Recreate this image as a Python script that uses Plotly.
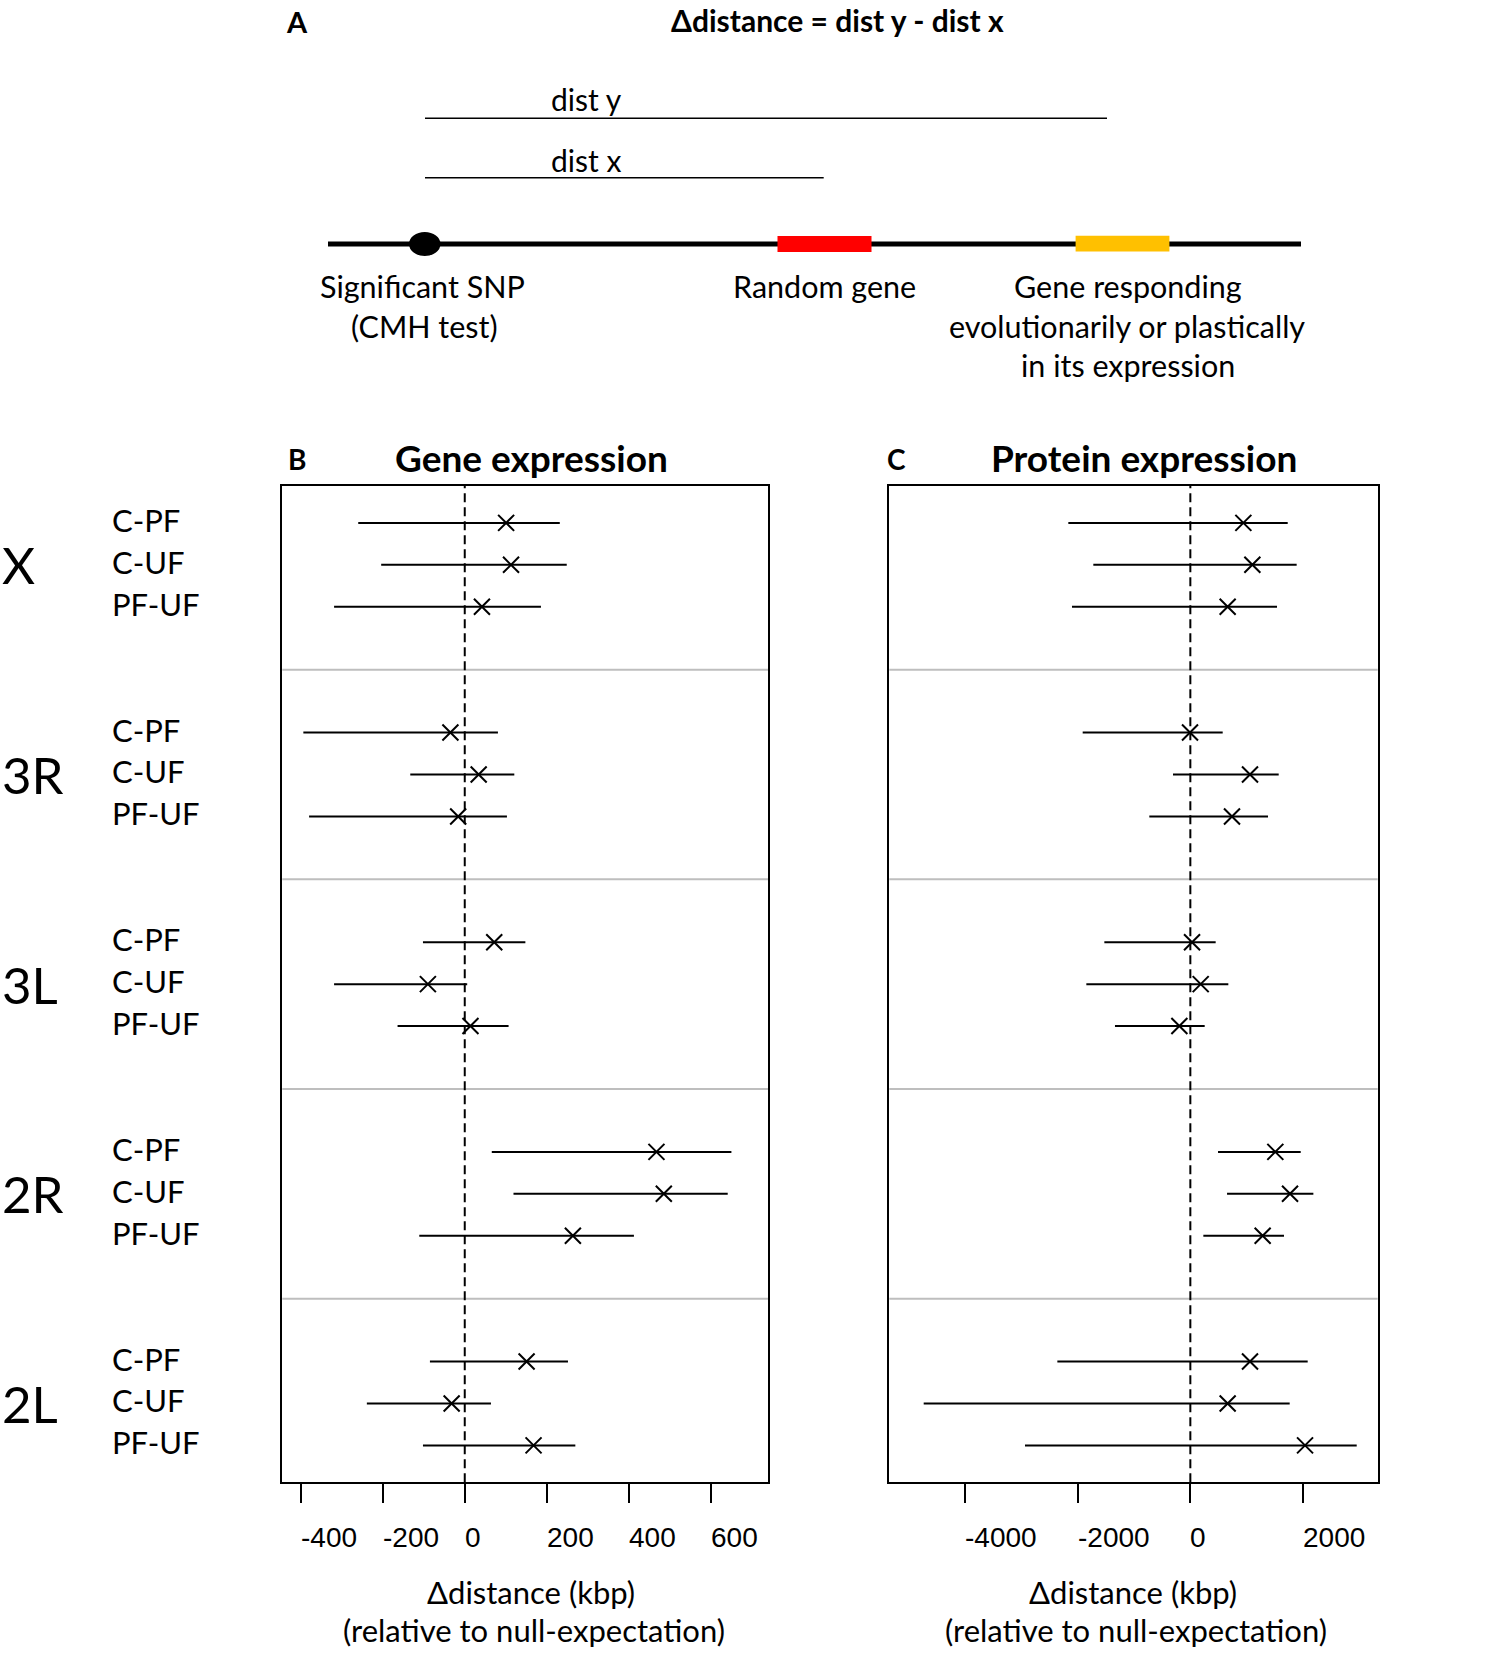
import plotly.graph_objects as go

# chromosome arms (top to bottom) and pairwise comparisons within each
chromosomes = ["X", "3R", "3L", "2R", "2L"]
comparisons = ["C-PF", "C-UF", "PF-UF"]

# B: gene expression, delta distance (kbp), rows in the order X..2L x C-PF, C-UF, PF-UF
gene_est = [101, 113, 42, -35, 34, -16, 72, -90, 14, 468, 486, 264, 151, -32, 168]
gene_low = [-260, -204, -319, -394, -133, -380, -102, -319, -164, 66, 119, -111, -85, -239, -102]
gene_high = [232, 249, 186, 81, 121, 103, 148, 6, 107, 651, 642, 413, 252, 64, 270]

# C: protein expression, delta distance (kbp)
prot_est = [942, 1102, 663, -6, 1060, 740, 30, 184, -195, 1510, 1771, 1285, 1060, 663, 2038]
prot_low = [-2168, -1724, -2103, -1913, -308, -729, -1528, -1848, -1339, 492, 652, 231, -2363, -4738, -2938]
prot_high = [1730, 1889, 1540, 575, 1570, 1380, 450, 675, 255, 1961, 2186, 1664, 2085, 1765, 2956]

gene_ticks = [-400, -200, 0, 200, 400, 600]
prot_ticks = [-4000, -2000, 0, 2000]

W, H = 1500, 1656
FONT = "Lato"
TICKFONT = "Liberation Sans"


def px(x):
    return x / W


def py(y):
    return 1 - y / H


# row positions: 3 rows per arm, 2 empty rows between arms
rows = []
for gi in range(len(chromosomes)):
    for ci in range(len(comparisons)):
        rows.append(gi * 5 + ci)

fig = go.Figure()


def add_panel(est, low, high, xa, ya):
    fig.add_trace(go.Scatter(
        x=est, y=rows, xaxis=xa, yaxis=ya, mode="markers",
        marker=dict(symbol="x-thin", size=16, color="black",
                    line=dict(width=2, color="black")),
        error_x=dict(type="data", symmetric=False,
                     array=[h - e for h, e in zip(high, est)],
                     arrayminus=[e - l for e, l in zip(est, low)],
                     color="black", thickness=2, width=0),
        showlegend=False, hoverinfo="skip"))


add_panel(gene_est, gene_low, gene_high, "x", "y")
add_panel(prot_est, prot_low, prot_high, "x2", "y2")

axis_common = dict(showgrid=False, zeroline=False, showline=True, mirror=True,
                   linecolor="black", linewidth=2)
yr = [22.88, -0.88]
fig.update_layout(
    width=W, height=H, margin=dict(l=0, r=0, t=0, b=0),
    paper_bgcolor="white", plot_bgcolor="white",
    xaxis=dict(domain=[px(282.3), px(768.4)], range=[-445.4, 741.3],
               tickvals=gene_ticks, ticks="outside", ticklen=19, tickwidth=2,
               tickcolor="black", showticklabels=False, anchor="y", **axis_common),
    yaxis=dict(domain=[py(1482.3), py(486)], range=yr, showticklabels=False,
               ticks="", anchor="x", **axis_common),
    xaxis2=dict(domain=[px(889.3), px(1377.7)], range=[-5349, 3329],
                tickvals=prot_ticks, ticks="outside", ticklen=19, tickwidth=2,
                tickcolor="black", showticklabels=False, anchor="y2", **axis_common),
    yaxis2=dict(domain=[py(1482.3), py(486)], range=yr, showticklabels=False,
                ticks="", anchor="x2", **axis_common),
)

shapes = []
ann = []


def text_at(text, x, y, size, xanchor="center", bold=False, family=FONT):
    if bold:
        text = "<b>%s</b>" % text
    ann.append(dict(x=px(x), y=py(y), xref="paper", yref="paper", text=text,
                    xanchor=xanchor, yanchor="middle", showarrow=False,
                    font=dict(family=family, size=size, color="black")))


# separators between arms and dashed zero line
for xa, ya in [("x", "y"), ("x2", "y2")]:
    for gi in range(1, len(chromosomes)):
        yv = gi * 5 - 1.5
        shapes.append(dict(type="line", xref=xa + " domain", yref=ya, x0=0, x1=1,
                           y0=yv, y1=yv, line=dict(color="#BEBEBE", width=2),
                           layer="below"))
    shapes.append(dict(type="line", xref=xa, yref=ya + " domain", x0=0, x1=0,
                       y0=0, y1=1, line=dict(color="black", width=2, dash="9px,5px"),
                       layer="below"))

# tick labels (left aligned on their tick, as in the original)
for xa, ticks in [("x", gene_ticks), ("x2", prot_ticks)]:
    for t in ticks:
        ann.append(dict(x=t, xref=xa, y=py(1537), yref="paper", text=str(t),
                        xanchor="left", yanchor="middle", showarrow=False,
                        xshift=-2, font=dict(family=TICKFONT, size=28, color="black")))

# axis titles
for cx in [531, 1133]:
    text_at("Δdistance (kbp)", cx, 1592, 31)
    text_at("(relative to null-expectation)", cx + 3, 1630, 31)

# panel titles
text_at("B", 297, 459, 28, bold=True)
text_at("Gene expression", 531, 457, 37, bold=True)
text_at("C", 896, 459, 28, bold=True)
text_at("Protein expression", 1144, 457, 37, bold=True)

# row labels
for gi, chrom in enumerate(chromosomes):
    ann.append(dict(x=0, xref="paper", y=gi * 5 + 1, yref="y", text=chrom,
                    xanchor="left", yanchor="middle", showarrow=False,
                    font=dict(family=FONT, size=51, color="black")))
    for ci, comp in enumerate(comparisons):
        ann.append(dict(x=px(110), xref="paper", y=gi * 5 + ci, yref="y", text=comp,
                        xanchor="left", yanchor="middle", showarrow=False, yshift=3,
                        font=dict(family=FONT, size=31, color="black")))

# panel A schematic
text_at("A", 297, 22, 29, bold=True)
text_at("Δdistance = dist y - dist x", 837, 20, 30, bold=True)
for label, ty, ly, x1 in [("dist y", 99, 118.3, 1107), ("dist x", 160, 177.7, 823.7)]:
    text_at(label, 586, ty, 30)
    shapes.append(dict(type="line", xref="paper", yref="paper", x0=px(425), x1=px(x1),
                       y0=py(ly), y1=py(ly), line=dict(color="black", width=1.5)))

shapes.append(dict(type="line", xref="paper", yref="paper", x0=px(328), x1=px(1301),
                   y0=py(244), y1=py(244), line=dict(color="black", width=5)))
shapes.append(dict(type="rect", xref="paper", yref="paper", x0=px(777.5), x1=px(871.5),
                   y0=py(252), y1=py(236), fillcolor="#FF0000", line=dict(width=0)))
shapes.append(dict(type="rect", xref="paper", yref="paper", x0=px(1075.6), x1=px(1169.4),
                   y0=py(251.5), y1=py(235.7), fillcolor="#FFC000", line=dict(width=0)))
shapes.append(dict(type="circle", xref="paper", yref="paper", x0=px(409), x1=px(440.5),
                   y0=py(256), y1=py(232), fillcolor="black", line=dict(width=0)))

for text, cx, cy in [("Significant SNP", 423, 286), ("(CMH test)", 424, 326),
                     ("Random gene", 824, 286), ("Gene responding", 1128, 286),
                     ("evolutionarily or plastically", 1127, 326),
                     ("in its expression", 1128, 365)]:
    text_at(text, cx, cy, 30.5)

fig.update_layout(shapes=shapes, annotations=ann)
# drop the default body margin so the figure fills the window exactly
fig.write_html("out.html", config={"displayModeBar": False},
               post_script="document.body.style.margin='0px';")
